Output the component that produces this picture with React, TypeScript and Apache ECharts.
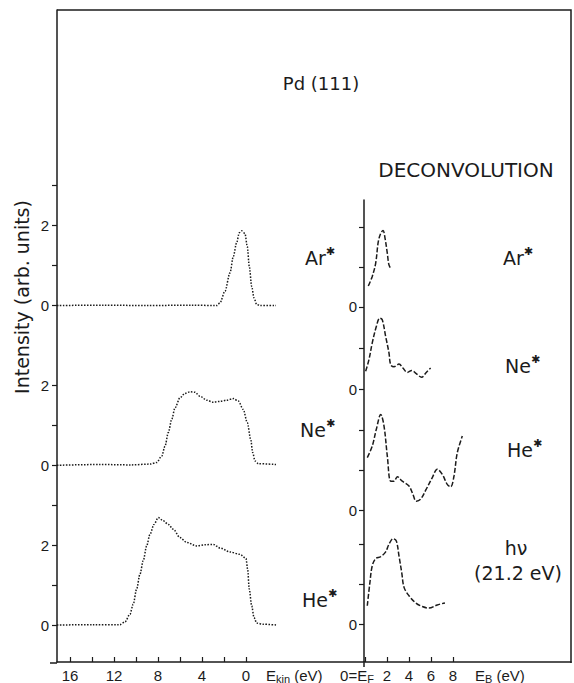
import React, { useEffect, useRef } from "react";
import * as echarts from "echarts";

const INK = "#1b1b1b";
const FONT = "'DejaVu Sans', sans-serif";
const TICK_FONT = "'Liberation Sans Narrow', 'Liberation Sans', sans-serif";

// bottom axes (eV)
const EKIN_TICKS = [16, 14, 12, 10, 8, 6, 4, 2, 0];
const EKIN_LABELS = [16, 12, 8, 4, 0];
const EB_TICKS = [0, 2, 4, 6, 8];
const EB_LABELS = [2, 4, 6, 8];

// left intensity axis (stacked spectra, offsets in arb. units)
const HE_OFFSET = 0;
const NE_OFFSET = 4;
const AR_OFFSET = 8;
const LEFT_Y_TICKS = [0, 1, 2, 3, 4, 5, 6, 8, 9, 10, 11];
const LEFT_Y_LABELS = [0, 2, 4, 6, 8, 10];

// right (deconvolution) axis zero levels
const HV_ZERO = 0;
const HE_ZERO = 2.85;
const NE_ZERO = 5.875;
const AR_ZERO = 7.95;
const RIGHT_Y_TICKS = [0, 1, 2, 2.85, 3.85, 4.85, 5.875, 6.9, 7.95, 8.95, 9.95];
const RIGHT_Y_LABELS = [0, 2.85, 5.875, 7.95];

// measured spectra: [E_kin (eV), intensity]
const arSpectrum: number[][] = [
  [17.18, 0], [13, 0.01], [9, 0], [5, 0.01], [2.64, 0], [2.36, 0.07], [1.91, 0.36],
  [1.45, 0.82], [1.15, 1.23], [0.85, 1.57], [0.61, 1.82], [0.39, 1.87], [0.09, 1.8],
  [-0.12, 1.48], [-0.3, 0.98], [-0.52, 0.48], [-0.73, 0.19], [-0.97, 0.03],
  [-1.27, 0], [-2.73, 0],
];
const neSpectrum: number[][] = [
  [17.18, 0], [13.27, 0.02], [10.5, 0.01], [8.73, 0.03], [8.12, 0.07], [7.66, 0.23],
  [7.36, 0.48], [7.06, 0.82], [6.75, 1.15], [6.45, 1.44], [6.0, 1.69], [5.55, 1.8],
  [5.09, 1.84], [4.64, 1.83], [4.18, 1.73], [3.57, 1.63], [2.97, 1.58], [2.36, 1.6],
  [1.75, 1.63], [1.15, 1.67], [0.7, 1.61], [0.25, 1.4], [-0.12, 1.07], [-0.43, 0.65],
  [-0.61, 0.32], [-0.82, 0.11], [-1.12, 0.04], [-2.73, 0.02],
];
const heSpectrum: number[][] = [
  [17.18, 0], [14, 0.01], [11.45, 0.01], [11.0, 0.08], [10.55, 0.27], [10.25, 0.52],
  [9.94, 0.9], [9.64, 1.27], [9.34, 1.61], [9.03, 1.98], [8.73, 2.27], [8.36, 2.52],
  [7.97, 2.69], [7.52, 2.61], [7.06, 2.52], [6.61, 2.4], [6.0, 2.19], [5.39, 2.07],
  [4.48, 1.98], [3.73, 2.01], [2.97, 2.02], [2.36, 1.93], [1.45, 1.83], [0.55, 1.77],
  [0, 1.67], [-0.15, 1.4], [-0.3, 0.9], [-0.52, 0.48], [-0.73, 0.19], [-0.97, 0.05],
  [-1.57, 0.02], [-2.85, 0],
];

// deconvoluted spectra: [E_B (eV), intensity]
const arDeconv: number[][] = [
  [0.3, 0.52], [0.66, 0.76], [0.97, 1.09], [1.21, 1.63], [1.43, 1.84], [1.64, 1.91],
  [1.82, 1.72], [2.03, 1.34], [2.18, 1.05], [2.39, 0.94],
];
const neDeconv: number[][] = [
  [0.06, 0.46], [0.36, 0.75], [0.66, 1.17], [1.03, 1.58], [1.34, 1.79], [1.57, 1.75],
  [1.88, 1.33], [2.18, 0.92], [2.34, 0.62], [2.64, 0.57], [3.09, 0.64], [3.45, 0.54],
  [3.85, 0.43], [4.25, 0.48], [4.66, 0.4], [5.15, 0.31], [5.57, 0.43], [5.97, 0.54],
];
const heDeconv: number[][] = [
  [0.21, 1.32], [0.66, 1.61], [1.03, 2.03], [1.43, 2.4], [1.73, 2.11], [2.03, 1.36],
  [2.34, 0.73], [2.64, 0.73], [2.94, 0.84], [3.39, 0.73], [4.0, 0.61], [4.36, 0.4],
  [4.66, 0.23], [5.06, 0.28], [5.57, 0.53], [6.12, 0.82], [6.57, 1.03], [7.03, 0.9],
  [7.48, 0.65], [7.79, 0.59], [8.09, 0.86], [8.39, 1.44], [8.85, 1.86],
];
const hvDeconv: number[][] = [
  [0.21, 0.46], [0.43, 1.0], [0.66, 1.46], [0.97, 1.64], [1.43, 1.69], [1.88, 1.81],
  [2.18, 2.0], [2.55, 2.14], [2.85, 2.08], [3.09, 1.71], [3.34, 1.29], [3.55, 0.92],
  [4.0, 0.71], [4.61, 0.53], [5.21, 0.44], [5.82, 0.4], [6.57, 0.48], [7.27, 0.53],
];

const shift = (data: number[][], off: number) => data.map(([x, y]) => [x, y + off]);

const leftLine = (name: string, data: number[][], off: number) => ({
  name,
  type: "line",
  xAxisIndex: 0,
  yAxisIndex: 0,
  data: shift(data, off),
  showSymbol: false,
  smooth: 0.3,
  smoothMonotone: "x",
  lineStyle: { color: INK, width: 1.5, type: [1.5, 1.5] },
  silent: true,
});

const rightLine = (name: string, data: number[][], off: number) => ({
  name,
  type: "line",
  xAxisIndex: 1,
  yAxisIndex: 1,
  data: shift(data, off),
  showSymbol: false,
  smooth: 0.35,
  lineStyle: { color: INK, width: 1.5, type: [5, 2] },
  silent: true,
});

const tickLabelStyle = { color: INK, fontSize: 15, fontFamily: TICK_FONT };
const axisLineStyle = { show: true, onZero: false, lineStyle: { color: INK, width: 1.5 } };

const starLabel = (txt: string, x: number, y: number) => ({
  type: "text",
  x,
  y,
  silent: true,
  style: {
    text: `{a|${txt}}{s|✱}`,
    textAlign: "left",
    textVerticalAlign: "middle",
    fill: INK,
    rich: {
      a: { fontSize: 19, fontFamily: FONT, fill: INK, lineHeight: 24 },
      s: { fontSize: 11, fontFamily: FONT, fill: INK, verticalAlign: "top", lineHeight: 14 },
    },
  },
});

const plainText = (txt: string, x: number, y: number, size: number, align = "center", rotation = 0) => ({
  type: "text",
  x,
  y,
  rotation,
  silent: true,
  style: {
    text: txt,
    fontSize: size,
    fontFamily: FONT,
    fill: INK,
    textAlign: align,
    textVerticalAlign: "middle",
  },
});

const subText = (main: string, sub: string, rest: string, x: number, y: number, align = "left") => ({
  type: "text",
  x,
  y,
  silent: true,
  style: {
    text: `{t|${main}}{u|${sub}}{t|${rest}}`,
    textAlign: align,
    textVerticalAlign: "middle",
    fill: INK,
    rich: {
      t: { fontSize: 15, fontFamily: TICK_FONT, fill: INK, lineHeight: 18 },
      u: { fontSize: 11, fontFamily: TICK_FONT, fill: INK, verticalAlign: "bottom", lineHeight: 14 },
    },
  },
});

const option = {
  animation: false,
  backgroundColor: "#ffffff",
  grid: [
    { left: 57, right: 574 - 364, top: 10, bottom: 20 },
    { left: 364, right: 3, top: 200, bottom: 20 },
  ],
  xAxis: [
    {
      type: "value",
      gridIndex: 0,
      inverse: true,
      min: -10.73,
      max: 17.18,
      axisLine: axisLineStyle,
      axisTick: { show: true, inside: true, length: 5, customValues: EKIN_TICKS, lineStyle: { color: INK, width: 1.2 } },
      axisLabel: { ...tickLabelStyle, customValues: EKIN_LABELS, margin: 6 },
      splitLine: { show: false },
    },
    {
      type: "value",
      gridIndex: 1,
      min: -0.09,
      max: 18.73,
      axisLine: axisLineStyle,
      axisTick: { show: true, inside: true, length: 5, customValues: EB_TICKS, lineStyle: { color: INK, width: 1.2 } },
      axisLabel: { ...tickLabelStyle, customValues: EB_LABELS, margin: 6 },
      splitLine: { show: false },
    },
  ],
  yAxis: [
    {
      type: "value",
      gridIndex: 0,
      min: -0.925,
      max: 15.4,
      axisLine: axisLineStyle,
      axisTick: { show: true, length: 5, customValues: LEFT_Y_TICKS, lineStyle: { color: INK, width: 1.2 } },
      axisLabel: {
        ...tickLabelStyle,
        customValues: LEFT_Y_LABELS,
        margin: 8,
        formatter: (v: number) => String(Math.round(v) % 4),
      },
      splitLine: { show: false },
    },
    {
      type: "value",
      gridIndex: 1,
      min: -0.95,
      max: 10.625,
      axisLine: axisLineStyle,
      axisTick: { show: true, length: 5, customValues: RIGHT_Y_TICKS, lineStyle: { color: INK, width: 1.2 } },
      axisLabel: { ...tickLabelStyle, customValues: RIGHT_Y_LABELS, margin: 7, formatter: () => "0" },
      splitLine: { show: false },
    },
  ],
  series: [
    leftLine("Ar*", arSpectrum, AR_OFFSET),
    leftLine("Ne*", neSpectrum, NE_OFFSET),
    leftLine("He*", heSpectrum, HE_OFFSET),
    rightLine("Ar* deconv", arDeconv, AR_ZERO),
    rightLine("Ne* deconv", neDeconv, NE_ZERO),
    rightLine("He* deconv", heDeconv, HE_ZERO),
    rightLine("hv deconv", hvDeconv, HV_ZERO),
  ],
  graphic: [
    {
      type: "polyline",
      silent: true,
      shape: { points: [[57, 10], [571, 10], [571, 663]] },
      style: { stroke: INK, lineWidth: 1.5, fill: "none" },
    },
    { type: "line", silent: true, shape: { x1: 50, y1: 663, x2: 57, y2: 663 }, style: { stroke: INK, lineWidth: 1.5 } },
    { type: "line", silent: true, shape: { x1: 364, y1: 663, x2: 364, y2: 667 }, style: { stroke: INK, lineWidth: 1.5 } },
    plainText("Pd (111)", 321, 83, 18),
    plainText("DECONVOLUTION", 466, 170, 20),
    plainText("Intensity (arb. units)", 22, 297, 19, "center", Math.PI / 2),
    starLabel("Ar", 305, 258),
    starLabel("Ne", 300, 430),
    starLabel("He", 302, 600),
    starLabel("Ar", 503, 258),
    starLabel("Ne", 505, 366),
    starLabel("He", 507, 450),
    plainText("hν", 516, 548, 19),
    plainText("(21.2 eV)", 518, 573, 19),
    subText("E", "kin", " (eV)", 266, 675),
    subText("0=E", "F", "", 357, 675, "center"),
    subText("E", "B", " (eV)", 475, 675),
  ],
};

export default function App() {
  const ref = useRef<HTMLDivElement>(null);
  useEffect(() => {
    if (!ref.current) return;
    const chart = echarts.init(ref.current, null, { renderer: "svg" });
    chart.setOption(option as any);
    return () => chart.dispose();
  }, []);
  return (
    <div
      ref={ref}
      style={{ position: "absolute", left: 0, top: 0, width: 574, height: 683, background: "#fff" }}
    />
  );
}
